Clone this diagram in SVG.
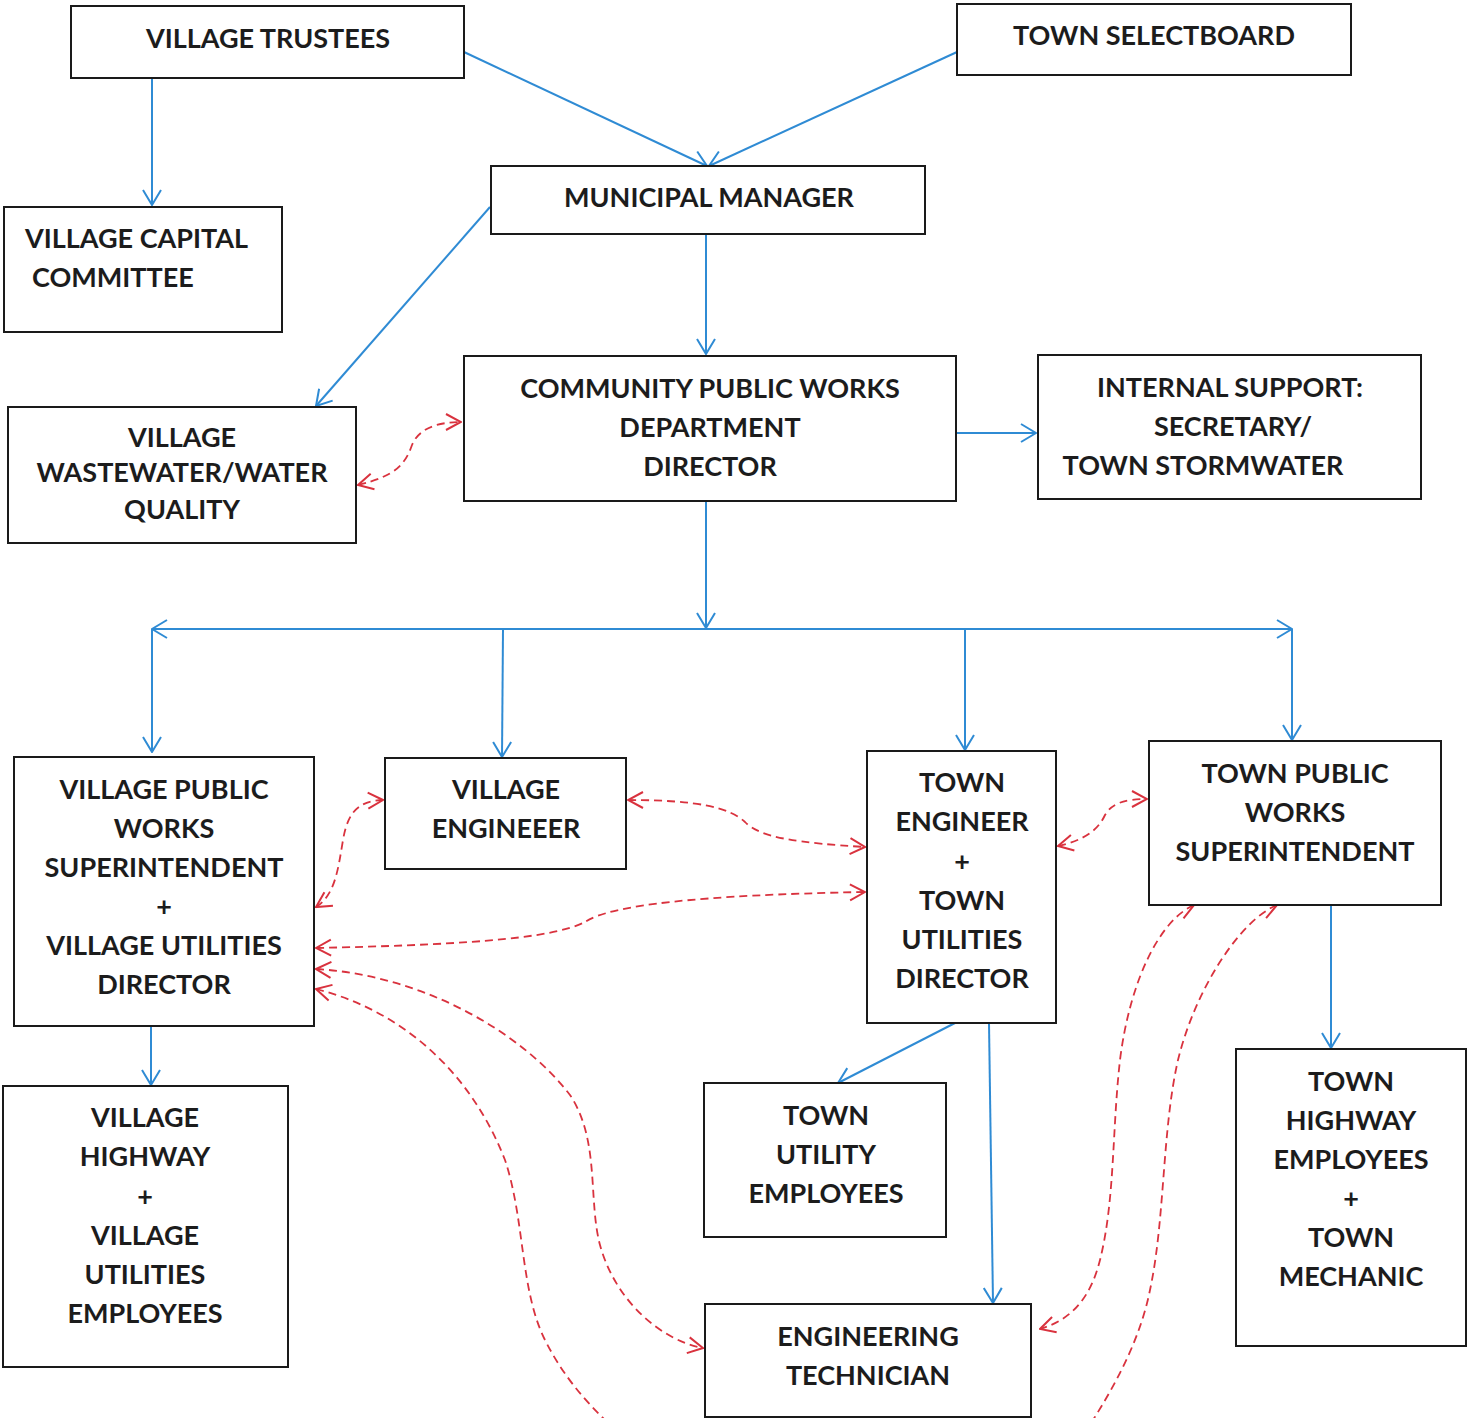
<svg xmlns="http://www.w3.org/2000/svg" width="1467" height="1418" viewBox="0 0 1467 1418">
<style>
.box{fill:#fff;stroke:#1a1a1a;stroke-width:2}
.t{font-family:Lato,"Open Sans","Liberation Sans",sans-serif;font-weight:bold;font-size:27px;fill:#1c1c1c;text-anchor:middle}
.tl{text-anchor:start}
.b{fill:none;stroke:#2f8bd4;stroke-width:2;marker-end:url(#ab)}
.r{fill:none;stroke:#d9323e;stroke-width:1.8;stroke-dasharray:8 5;marker-end:url(#ar)}
.r2{marker-start:url(#ar)}
</style>
<defs>
<marker id="ab" viewBox="0 0 17 20" refX="16" refY="10" markerWidth="17" markerHeight="20" markerUnits="userSpaceOnUse" orient="auto-start-reverse">
<path d="M1,1 L16,10 L1,19" fill="none" stroke="#2f8bd4" stroke-width="2"/>
</marker>
<marker id="ar" viewBox="0 0 17 20" refX="16" refY="10" markerWidth="17" markerHeight="20" markerUnits="userSpaceOnUse" orient="auto-start-reverse">
<path d="M1,2 L16,10 L1,18" fill="none" stroke="#d9323e" stroke-width="2" stroke-dasharray="none"/>
</marker>
</defs>
<rect width="1467" height="1418" fill="#fff"/>
<g id="connectors">
<path class="b" d="M152,78 L152,205"/>
<path class="b" d="M464,52 L707,166"/>
<path class="b" d="M957,52 L709,166"/>
<path class="b" d="M490,207 L316,406"/>
<path class="b" d="M706,234 L706,354"/>
<path class="b" d="M956,433 L1036,433"/>
<path class="b" d="M706,501 L706,628"/>
<path class="b" d="M706,629 L1292,629"/>
<path class="b" d="M706,629 L152,629"/>
<path class="b" d="M152,629 L152,752"/>
<path class="b" d="M503,629 L502,757"/>
<path class="b" d="M965,629 L965,750"/>
<path class="b" d="M1292,629 L1292,740"/>
<path class="b" d="M151,1026 L151,1085"/>
<path class="b" d="M955,1023 L838,1083"/>
<path class="b" d="M989,1023 L993,1303"/>
<path class="b" d="M1331,905 L1331,1048"/>
<path class="r r2" d="M358,485 C395,476 405,465 412,445 C418,430 435,422 461,422"/>
<path class="r r2" d="M316,907 C335,895 338,870 343,840 C348,810 360,801 383,800"/>
<path class="r r2" d="M628,800 C700,800 730,808 745,822 C760,838 800,843 865,847"/>
<path class="r r2" d="M316,948 C450,945 550,940 585,922 C610,905 700,895 865,892"/>
<path class="r r2" d="M316,969 C420,975 520,1030 570,1095 C600,1140 588,1200 600,1245 C615,1300 660,1340 703,1348"/>
<path class="r r2" d="M1058,846 C1085,840 1098,830 1105,815 C1112,803 1125,799 1147,799"/>
<path class="r r2" d="M1194,905 C1160,920 1130,980 1120,1060 C1112,1130 1115,1200 1100,1260 C1090,1300 1070,1320 1040,1329"/>
<path class="r" style="marker-end:none;marker-start:url(#ar)" d="M316,989 C400,1010 470,1070 505,1160 C525,1220 520,1290 545,1340 C565,1380 590,1405 605,1420"/>
<path class="r" style="marker-end:none;marker-start:url(#ar)" d="M1277,905 C1240,920 1195,990 1178,1060 C1162,1130 1165,1220 1150,1290 C1140,1340 1115,1385 1093,1420"/>
</g>
<g id="village-trustees"><rect class="box" x="71" y="6" width="393" height="72"/><text class="t" x="268" y="48">VILLAGE TRUSTEES</text></g>
<g id="town-selectboard"><rect class="box" x="957" y="4" width="394" height="71"/><text class="t" x="1154" y="45">TOWN SELECTBOARD</text></g>
<g id="municipal-manager"><rect class="box" x="491" y="166" width="434" height="68"/><text class="t" x="709" y="207">MUNICIPAL MANAGER</text></g>
<g id="village-capital-committee"><rect class="box" x="4" y="207" width="278" height="125"/><text class="t tl" x="25" y="248">VILLAGE CAPITAL</text><text class="t tl" x="32" y="287">COMMITTEE</text></g>
<g id="village-wastewater"><rect class="box" x="8" y="407" width="348" height="136"/><text class="t" x="182" y="447">VILLAGE</text><text class="t" x="182" y="482">WASTEWATER/WATER</text><text class="t" x="182" y="519">QUALITY</text></g>
<g id="cpwd-director"><rect class="box" x="464" y="356" width="492" height="145"/><text class="t" x="710" y="398">COMMUNITY PUBLIC WORKS</text><text class="t" x="710" y="437">DEPARTMENT</text><text class="t" x="710" y="476">DIRECTOR</text></g>
<g id="internal-support"><rect class="box" x="1038" y="355" width="383" height="144"/><text class="t" x="1230" y="397">INTERNAL SUPPORT:</text><text class="t" x="1233" y="436">SECRETARY/</text><text class="t" x="1203" y="475">TOWN STORMWATER</text></g>
<g id="village-pw-superintendent"><rect class="box" x="14" y="757" width="300" height="269"/><text class="t" x="164" y="799">VILLAGE PUBLIC</text><text class="t" x="164" y="838">WORKS</text><text class="t" x="164" y="877">SUPERINTENDENT</text><text class="t" x="164" y="916">+</text><text class="t" x="164" y="955">VILLAGE UTILITIES</text><text class="t" x="164" y="994">DIRECTOR</text></g>
<g id="village-engineer"><rect class="box" x="385" y="758" width="241" height="111"/><text class="t" x="506" y="799">VILLAGE</text><text class="t" x="506" y="838">ENGINEEER</text></g>
<g id="town-engineer"><rect class="box" x="867" y="751" width="189" height="272"/><text class="t" x="962" y="792">TOWN</text><text class="t" x="962" y="831">ENGINEER</text><text class="t" x="962" y="871">+</text><text class="t" x="962" y="910">TOWN</text><text class="t" x="962" y="949">UTILITIES</text><text class="t" x="962" y="988">DIRECTOR</text></g>
<g id="town-pw-superintendent"><rect class="box" x="1149" y="741" width="292" height="164"/><text class="t" x="1295" y="783">TOWN PUBLIC</text><text class="t" x="1295" y="822">WORKS</text><text class="t" x="1295" y="861">SUPERINTENDENT</text></g>
<g id="village-highway"><rect class="box" x="3" y="1086" width="285" height="281"/><text class="t" x="145" y="1127">VILLAGE</text><text class="t" x="145" y="1166">HIGHWAY</text><text class="t" x="145" y="1206">+</text><text class="t" x="145" y="1245">VILLAGE</text><text class="t" x="145" y="1284">UTILITIES</text><text class="t" x="145" y="1323">EMPLOYEES</text></g>
<g id="town-utility-employees"><rect class="box" x="704" y="1083" width="242" height="154"/><text class="t" x="826" y="1125">TOWN</text><text class="t" x="826" y="1164">UTILITY</text><text class="t" x="826" y="1203">EMPLOYEES</text></g>
<g id="engineering-technician"><rect class="box" x="705" y="1304" width="326" height="113"/><text class="t" x="868" y="1346">ENGINEERING</text><text class="t" x="868" y="1385">TECHNICIAN</text></g>
<g id="town-highway-employees"><rect class="box" x="1236" y="1049" width="230" height="297"/><text class="t" x="1351" y="1091">TOWN</text><text class="t" x="1351" y="1130">HIGHWAY</text><text class="t" x="1351" y="1169">EMPLOYEES</text><text class="t" x="1351" y="1208">+</text><text class="t" x="1351" y="1247">TOWN</text><text class="t" x="1351" y="1286">MECHANIC</text></g>
</svg>
